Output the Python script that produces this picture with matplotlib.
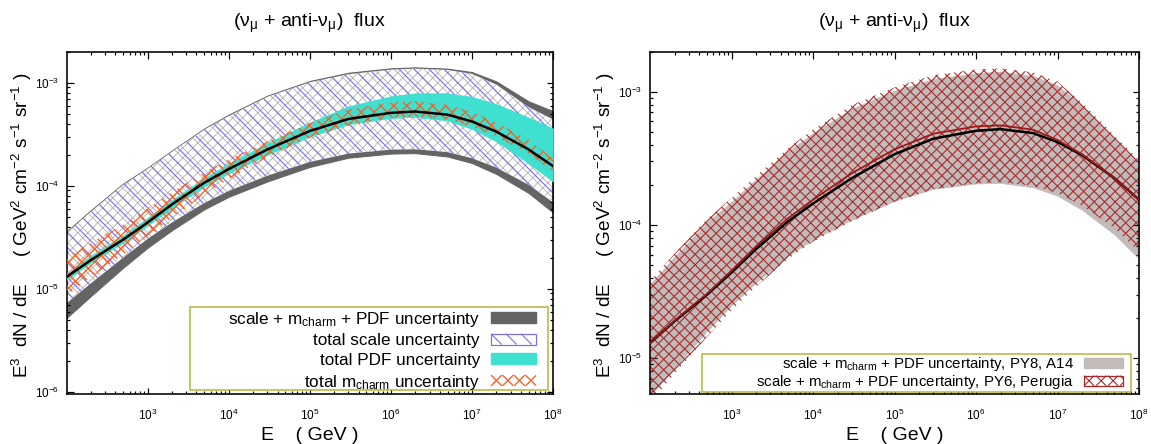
import numpy as np
import matplotlib
matplotlib.use("Agg")
import matplotlib.pyplot as plt
from matplotlib.patches import Patch, Rectangle
from matplotlib.collections import LineCollection
from matplotlib.legend_handler import HandlerBase
from matplotlib.ticker import FixedLocator, FuncFormatter, LogLocator, NullFormatter

plt.rcParams['font.family'] = ['Liberation Sans', 'DejaVu Sans']
plt.rcParams['mathtext.fontset'] = 'custom'
plt.rcParams['mathtext.rm'] = 'Liberation Sans'
plt.rcParams['mathtext.it'] = 'Liberation Sans:italic'
plt.rcParams['mathtext.bf'] = 'Liberation Sans:bold'

DPI = 100
P = 72.0 / DPI          # points per pixel


def px(v):
    return v * P


# ---------------- data ----------------
energy = [1e2, 2e2, 5e2, 1e3, 2e3, 5e3, 1e4, 3e4, 1e5, 3e5, 1e6, 2e6, 5e6, 1e7, 2e7, 5e7, 1e8]

central = [1.3e-5, 1.9e-5, 3.0e-5, 4.4e-5, 6.6e-5, 1.07e-4, 1.45e-4, 2.25e-4, 3.4e-4,
           4.45e-4, 5.1e-4, 5.25e-4, 4.9e-4, 4.2e-4, 3.35e-4, 2.25e-4, 1.55e-4]

total_hi = [3.6e-5, 5.8e-5, 1.05e-4, 1.5e-4, 2.2e-4, 3.6e-4, 4.9e-4, 7.5e-4, 1.04e-3,
            1.25e-3, 1.38e-3, 1.41e-3, 1.37e-3, 1.27e-3, 1.03e-3, 6.6e-4, 5.3e-4]
total_lo = [5.2e-6, 8.5e-6, 1.6e-5, 2.5e-5, 3.7e-5, 5.9e-5, 7.8e-5, 1.1e-4, 1.52e-4,
            1.87e-4, 2.05e-4, 2.07e-4, 1.92e-4, 1.66e-4, 1.3e-4, 8.5e-5, 5.5e-5]

scale_hi = [3.5e-5, 5.6e-5, 1.02e-4, 1.46e-4, 2.14e-4, 3.5e-4, 4.75e-4, 7.3e-4, 1.01e-3,
            1.21e-3, 1.34e-3, 1.37e-3, 1.33e-3, 1.22e-3, 9.6e-4, 5.8e-4, 4.4e-4]
scale_lo = [7.2e-6, 1.13e-5, 2.0e-5, 3.05e-5, 4.4e-5, 6.8e-5, 8.9e-5, 1.25e-4, 1.7e-4,
            2.05e-4, 2.24e-4, 2.26e-4, 2.12e-4, 1.85e-4, 1.5e-4, 1.02e-4, 6.9e-5]

pdf_lo = [1.22e-5, 1.8e-5, 2.8e-5, 4.1e-5, 6.1e-5, 9.8e-5, 1.32e-4, 2.0e-4, 3.0e-4,
          3.95e-4, 4.55e-4, 4.65e-4, 4.3e-4, 3.55e-4, 2.7e-4, 1.65e-4, 1.1e-4]
pdf_hi = [1.4e-5, 2.1e-5, 3.3e-5, 4.9e-5, 7.3e-5, 1.19e-4, 1.65e-4, 2.6e-4, 4.1e-4,
          5.9e-4, 7.4e-4, 7.9e-4, 7.9e-4, 7.3e-4, 6.2e-4, 4.6e-4, 3.6e-4]

mc_lo = [8.5e-6, 1.3e-5, 2.15e-5, 3.25e-5, 4.9e-5, 8.2e-5, 1.16e-4, 1.88e-4, 2.92e-4,
         3.85e-4, 4.55e-4, 4.7e-4, 4.4e-4, 3.75e-4, 3.0e-4, 2.05e-4, 1.38e-4]
mc_hi = [2.0e-5, 2.8e-5, 4.2e-5, 6.0e-5, 8.7e-5, 1.35e-4, 1.8e-4, 2.7e-4, 4.05e-4,
         5.5e-4, 6.4e-4, 6.6e-4, 6.1e-4, 5.2e-4, 4.1e-4, 2.8e-4, 1.82e-4]

py8_lo = [5.2e-6, 8.5e-6, 1.6e-5, 2.5e-5, 3.7e-5, 5.9e-5, 7.8e-5, 1.1e-4, 1.52e-4,
          1.87e-4, 2.05e-4, 2.07e-4, 1.92e-4, 1.66e-4, 1.3e-4, 8.5e-5, 5.6e-5]
py8_hi = [3.6e-5, 5.8e-5, 1.05e-4, 1.5e-4, 2.2e-4, 3.6e-4, 4.9e-4, 7.5e-4, 1.02e-3,
          1.25e-3, 1.38e-3, 1.42e-3, 1.32e-3, 1.12e-3, 7.8e-4, 4.4e-4, 2.9e-4]

py6_lo = [4.6e-6, 7.7e-6, 1.45e-5, 2.3e-5, 3.45e-5, 5.6e-5, 7.5e-5, 1.07e-4, 1.5e-4,
          1.86e-4, 2.06e-4, 2.1e-4, 1.97e-4, 1.74e-4, 1.4e-4, 9.5e-5, 6.3e-5]
py6_hi = [3.8e-5, 6.1e-5, 1.11e-4, 1.59e-4, 2.33e-4, 3.8e-4, 5.2e-4, 7.95e-4, 1.08e-3,
          1.33e-3, 1.47e-3, 1.5e-3, 1.4e-3, 1.19e-3, 8.3e-4, 4.7e-4, 3.1e-4]

py6_central = [1.3e-5, 1.92e-5, 3.05e-5, 4.55e-5, 6.9e-5, 1.13e-4, 1.55e-4, 2.45e-4, 3.7e-4,
               4.85e-4, 5.5e-4, 5.6e-4, 5.2e-4, 4.35e-4, 3.4e-4, 2.25e-4, 1.55e-4]

x_major = [1e3, 1e4, 1e5, 1e6, 1e7, 1e8]
y_major_left = [1e-6, 1e-5, 1e-4, 1e-3]
y_major_right = [1e-5, 1e-4, 1e-3]

title_text = "(ν$_{\\mathrm{μ}}$ + anti-ν$_{\\mathrm{μ}}$)  flux"
ylabel_text = "E$^{3}$  dN / dE     ( GeV$^{2}$ cm$^{-2}$ s$^{-1}$ sr$^{-1}$ )"
xlabel_text = "E    ( GeV )"

lab_total = "scale + m$_{\\mathrm{charm}}$ + PDF uncertainty"
lab_scale = "total scale uncertainty"
lab_pdf = "total PDF uncertainty"
lab_mc = "total m$_{\\mathrm{charm}}$ uncertainty"
lab_py8 = "scale + m$_{\\mathrm{charm}}$ + PDF uncertainty, PY8, A14"
lab_py6 = "scale + m$_{\\mathrm{charm}}$ + PDF uncertainty, PY6, Perugia"

# ---------------- colours ----------------
c_total = '#646464'
c_scale = '#7b6cf0'
c_grid = '#a0a0a0'
c_pdf = '#40e0d0'
c_mc = '#ff5a1a'
c_py8 = '#c3baba'
c_py6 = '#a52a2a'
c_key = '#b4b432'

W, H = 1151, 444
fig = plt.figure(figsize=(W / DPI, H / DPI), dpi=DPI)

AX_TOP, AX_BOT = 51.7, 394.0
ax_l = fig.add_axes([66.6 / W, 1 - AX_BOT / H, (553 - 66.6) / W, (AX_BOT - AX_TOP) / H])
ax_r = fig.add_axes([650 / W, 1 - AX_BOT / H, (1139 - 650) / W, (AX_BOT - AX_TOP) / H])


def diag_segments(x0, y0, w, h, spacing, dirs):
    """45-degree hatch segments inside a w x h box (any length unit)."""
    segs = []
    n = int((w + h) / spacing) + 2
    for d in dirs:
        for i in range(-n, n + 1):
            c = i * spacing
            xa, xb = max(0.0, c), min(w, c + h)
            if xb <= xa:
                continue
            if d == '/':
                segs.append([(x0 + xa, y0 + xa - c), (x0 + xb, y0 + xb - c)])
            else:
                segs.append([(x0 + xa, y0 + h - (xa - c)), (x0 + xb, y0 + h - (xb - c))])
    return segs


def band_hatch(ax, lo, hi, color, spacing_px, lw_px, dirs, z):
    band = ax.fill_between(energy, lo, hi, facecolor='none', edgecolor='none', linewidth=0, zorder=z)
    pos = ax.get_position()
    w, h = pos.width * W, pos.height * H
    segs = diag_segments(0, 0, w, h, spacing_px, dirs)
    segs = [[(x / w, y / h) for (x, y) in s] for s in segs]
    lc = LineCollection(segs, colors=color, linewidths=px(lw_px), transform=ax.transAxes, zorder=z)
    ax.add_collection(lc, autolim=False)
    lc.set_clip_path(band.get_paths()[0], ax.transData)
    return lc


class HatchSwatch(HandlerBase):
    def __init__(self, face, edge, edge_lw_px, hcolor, spacing_px, hlw_px, dirs):
        super().__init__()
        self.face, self.edge, self.elw = face, edge, edge_lw_px
        self.hcolor, self.spacing, self.hlw, self.dirs = hcolor, spacing_px, hlw_px, dirs

    def create_artists(self, legend, orig_handle, xdescent, ydescent, width, height, fontsize, trans):
        x0, y0 = -xdescent, -ydescent
        arts = []
        rect = Rectangle((x0, y0), width, height, facecolor=self.face,
                         edgecolor=self.edge if self.edge else 'none',
                         linewidth=px(self.elw) if self.edge else 0, transform=trans)
        arts.append(rect)
        segs = diag_segments(x0, y0, width, height, px(self.spacing), self.dirs)
        lc = LineCollection(segs, colors=self.hcolor, linewidths=px(self.hlw), transform=trans)
        arts.append(lc)
        return arts


def style_axes(ax, ymajor, ylim, ylab_x):
    ax.set_xscale('log')
    ax.set_yscale('log')
    ax.set_xlim(1e2, 1e8)
    ax.set_ylim(*ylim)
    ax.xaxis.set_major_locator(FixedLocator(x_major))
    ax.yaxis.set_major_locator(FixedLocator(ymajor))
    ax.xaxis.set_minor_locator(LogLocator(base=10, subs=np.arange(2, 10), numticks=50))
    ax.yaxis.set_minor_locator(LogLocator(base=10, subs=np.arange(2, 10), numticks=50))
    fmt = FuncFormatter(lambda v, p: "10$^{%d}$" % int(round(np.log10(v))))
    ax.xaxis.set_major_formatter(fmt)
    ax.yaxis.set_major_formatter(fmt)
    ax.xaxis.set_minor_formatter(NullFormatter())
    ax.yaxis.set_minor_formatter(NullFormatter())
    ax.tick_params(which='both', direction='in', top=True, right=True, width=px(1.2))
    ax.tick_params(which='major', length=px(6.5), labelsize=px(11.8))
    ax.tick_params(which='minor', length=px(3.3))
    ax.tick_params(axis='x', which='major', pad=px(14))
    ax.tick_params(axis='y', which='major', pad=px(7.5))
    for s in ax.spines.values():
        s.set_linewidth(px(1.6))
    ax.set_title(title_text, fontsize=px(19.5), pad=px(24.5))
    ax.set_xlabel(xlabel_text, fontsize=px(19.5))
    ax.set_ylabel(ylabel_text, fontsize=px(19))
    ax.xaxis.set_label_coords(0.5, -(427 - AX_BOT) / (AX_BOT - AX_TOP))
    ax.yaxis.set_label_coords(ylab_x, 0.494)


def place_legend(ax, handles, hmap, fs_px, hl, hh, htp, right_px, rows_top):
    pos = ax.get_position()
    ax_x0, ax_w = pos.x0 * W, pos.width * W
    ax_h = pos.height * H
    xa = (right_px - ax_x0) / ax_w
    kw = dict(loc='lower right', markerfirst=False, fontsize=px(fs_px), frameon=False,
              handlelength=hl, handleheight=hh, borderpad=0, handletextpad=htp,
              borderaxespad=0, handler_map=hmap)

    def centers(leg):
        fig.canvas.draw()
        r = fig.canvas.get_renderer()
        out = []
        for t in leg.get_texts():
            bb = t.get_window_extent(r)
            out.append(0.5 * (bb.y0 + bb.y1))
        return out

    leg = ax.legend(handles=handles, bbox_to_anchor=(xa, 0.0), labelspacing=0.0, **kw)
    cs = centers(leg)
    n = len(cs)
    pitch0 = (cs[0] - cs[-1]) / (n - 1)
    target = (rows_top[-1] - rows_top[0]) / (n - 1)
    ls = max(0.0, (target - pitch0) / fs_px)
    leg.remove()
    leg = ax.legend(handles=handles, bbox_to_anchor=(xa, 0.0), labelspacing=ls, **kw)
    cs = centers(leg)
    dy = (H - rows_top[-1]) - cs[-1]
    leg.set_bbox_to_anchor((xa, dy / ax_h), transform=ax.transAxes)
    leg.set_zorder(11)
    return leg


# ---------------- left panel ----------------
ax = ax_l
ax.fill_between(energy, total_lo, total_hi, facecolor=c_total, edgecolor=c_total,
                linewidth=px(1.0), zorder=1)
ax.fill_between(energy, scale_lo, scale_hi, facecolor='white', edgecolor='none', linewidth=0, zorder=2)
band_hatch(ax, scale_lo, scale_hi, c_grid, 10.0, 0.7, ('/', '\\'), 2.1)
band_hatch(ax, scale_lo, scale_hi, c_scale, 15.0, 1.1, ('\\',), 2.2)
ax.fill_between(energy, pdf_lo, pdf_hi, facecolor=c_pdf, edgecolor=c_pdf, linewidth=px(0.6), zorder=3)
band_hatch(ax, mc_lo, mc_hi, c_mc, 13.0, 1.3, ('/', '\\'), 4)
ax.plot(energy, central, color='black', lw=px(2.5), zorder=5)
style_axes(ax, y_major_left, (9.5e-7, 2.0e-3), -0.066)

h_total = Patch(facecolor=c_total, edgecolor=c_total, label=lab_total)
h_scale = Patch(facecolor='white', edgecolor=c_scale, label=lab_scale)
h_pdf = Patch(facecolor=c_pdf, edgecolor=c_pdf, label=lab_pdf)
h_mc = Patch(facecolor='none', edgecolor=c_mc, label=lab_mc)
hmap_l = {
    h_scale: HatchSwatch('white', c_scale, 1.2, c_scale, 15.0, 1.1, ('\\',)),
    h_mc: HatchSwatch('none', None, 0, c_mc, 11.5, 1.3, ('/', '\\')),
}
ax.add_patch(Rectangle((0.254, 0.012), 0.736, 0.242, transform=ax.transAxes,
                       facecolor='white', edgecolor=c_key, linewidth=px(1.5), zorder=10))

# ---------------- right panel ----------------
ax = ax_r
ax.fill_between(energy, py8_lo, py8_hi, facecolor=c_py8, edgecolor=c_py8, linewidth=px(0.6), zorder=1)
band_hatch(ax, py6_lo, py6_hi, c_py6, 10.5, 1.1, ('/', '\\'), 2)
ax.plot(energy, central, color='black', lw=px(2.5), zorder=3)
ax.plot(energy, py6_central, color='#a01818', lw=px(1.8), zorder=4)
style_axes(ax, y_major_right, (5.4e-6, 2.0e-3), -0.0685)

h_py8 = Patch(facecolor=c_py8, edgecolor=c_py8, label=lab_py8)
h_py6 = Patch(facecolor='white', edgecolor=c_py6, label=lab_py6)
hmap_r = {h_py6: HatchSwatch('white', c_py6, 1.3, c_py6, 12.0, 1.1, ('/', '\\'))}
ax.add_patch(Rectangle((0.106, 0.006), 0.878, 0.111, transform=ax.transAxes,
                       facecolor='white', edgecolor=c_key, linewidth=px(1.5), zorder=10))

# legends (positioned after the layout is fixed)
place_legend(ax_l, [h_total, h_scale, h_pdf, h_mc], hmap_l, 17.1, 2.63, 0.59, 0.65,
             536.0, [319.0, 340.0, 361.0, 382.0])
place_legend(ax_r, [h_py8, h_py6], hmap_r, 15.0, 2.6, 0.67, 0.67,
             1123.0, [365.0, 382.0])

fig.savefig("out.png", dpi=DPI)
